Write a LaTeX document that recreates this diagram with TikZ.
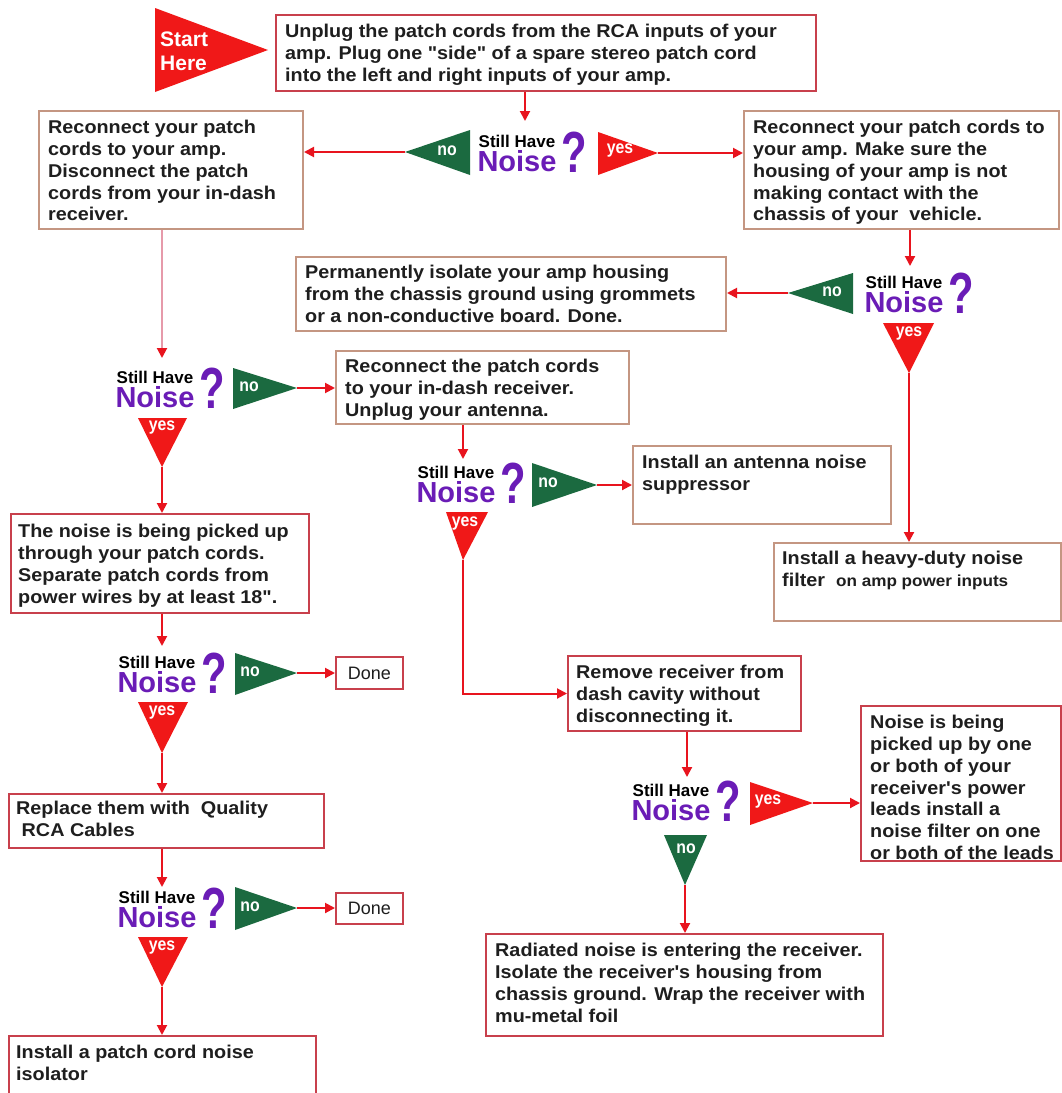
\documentclass[tikz,border=0pt]{standalone}
\usepackage{fontspec}
\setmainfont{Liberation Sans}
\newfontfamily\boxfont{Liberation Sans}[FakeStretch=1.07]
\newfontfamily\qmfont{Liberation Sans}[FakeStretch=0.72]
\newfontfamily\flagfont{Liberation Sans}[FakeStretch=0.88]
\usetikzlibrary{arrows.meta,calc}
\definecolor{arrred}{HTML}{E8141E}
\definecolor{flagred}{HTML}{F01818}
\definecolor{flaggreen}{HTML}{1B6A40}
\definecolor{noisepurple}{HTML}{6A1CB6}
\definecolor{tanb}{HTML}{C49682}
\definecolor{redb}{HTML}{C8404C}
\definecolor{pinkline}{HTML}{E69AAA}
\definecolor{txtc}{HTML}{1E1E1E}
\tikzset{
  conn/.style={draw=arrred, line width=2pt, -{Triangle[length=10pt,width=10pt]}},
  pinkconn/.style={draw=pinkline, line width=2pt, -{Triangle[length=10pt,width=10pt,color=arrred,fill=arrred]}},
  tanbox/.style={draw=tanb, line width=2pt, fill=white, anchor=north west, inner sep=0pt},
  redbox/.style={draw=redb, line width=2pt, fill=white, anchor=north west, inner sep=0pt},
  txt/.style={anchor=north west, align=left, inner sep=0pt, text=txtc,
    font=\boxfont\bfseries\fontsize{18.5}{21.8}\selectfont},
  flaglbl/.style={text=white, inner sep=0pt, font=\flagfont\bfseries\fontsize{18}{18}\selectfont},
  noiseq/.pic={
    \node[inner sep=0pt, align=center, anchor=south, text=noisepurple,
      font=\bfseries\fontsize{29}{24}\selectfont] (-noise) at (-56,19.5)
      {{\color{black}\fontsize{17}{17}\selectfont Still Have}\\Noise};
    \node[inner sep=0pt, font=\qmfont\bfseries\fontsize{58}{58}\selectfont, text=noisepurple] (-q) at (1,0) {?};
  }
}
\begin{document}
\begin{tikzpicture}[x=1pt,y=-1pt]
\useasboundingbox (0,0) rectangle (1062,1093);
\clip (0,0) rectangle (1062,1093);
\fill[white] (0,0) rectangle (1062,1093);

% ---------- boxes ----------
\node[redbox, minimum width=540, minimum height=76] (A) at (275,14) {};
\node[txt] (At) at (285,24) {Unplug the patch cords from the RCA inputs of your\\amp. Plug one "side" of a spare stereo patch cord\\into the left and right inputs of your amp.};

\node[tanbox, minimum width=264, minimum height=118] (B) at (38,110) {};
\node[txt] (Bt) at (48,120) {Reconnect your patch\\cords to your amp.\\Disconnect the patch\\cords from your in-dash\\receiver.};

\node[tanbox, minimum width=315, minimum height=118] (C) at (743,110) {};
\node[txt] (Ct) at (753,120) {Reconnect your patch cords to\\your amp. Make sure the\\housing of your amp is not\\making contact with the\\chassis of your\ \ vehicle.};

\node[tanbox, minimum width=430, minimum height=74] (P) at (295,256) {};
\node[txt] (Pt) at (305,265) {Permanently isolate your amp housing\\from the chassis ground using grommets\\or a non-conductive board. Done.};

\node[tanbox, minimum width=293, minimum height=73] (D) at (335,350) {};
\node[txt] (Dt) at (345,359) {Reconnect the patch cords\\to your in-dash receiver.\\Unplug your antenna.};

\node[tanbox, minimum width=258, minimum height=78] (F) at (632,445) {};
\node[txt] (Ft) at (642,455) {Install an antenna noise\\suppressor};

\node[tanbox, minimum width=287, minimum height=78] (J) at (773,542) {};
\node[txt] (Jt) at (782,551) {Install a heavy-duty noise\\filter\ \ {\fontsize{16}{21.8}\selectfont on amp power inputs}};

\node[redbox, minimum width=298, minimum height=99] (E) at (10,513) {};
\node[txt] (Et) at (18,524) {The noise is being picked up\\through your patch cords.\\Separate patch cords from\\power wires by at least 18".};

\node[redbox, minimum width=233, minimum height=75] (G) at (567,655) {};
\node[txt] (Gt) at (576,665) {Remove receiver from\\dash cavity without\\disconnecting it.};

\node[redbox, minimum width=200, minimum height=155] (H) at (860,705) {};
\node[txt] (Ht) at (870,715) {Noise is being\\picked up by one\\or both of your\\receiver's power\\leads install a\\noise filter on one\\or both of the leads};

\node[redbox, minimum width=397, minimum height=102] (I) at (485,933) {};
\node[txt] (It) at (495,943) {Radiated noise is entering the receiver.\\Isolate the receiver's housing from\\chassis ground. Wrap the receiver with\\mu-metal foil};

\node[redbox, minimum width=315, minimum height=54] (K) at (8,793) {};
\node[txt] (Kt) at (16,801) {Replace them with\ \ Quality\\\ RCA Cables};

\node[redbox, minimum width=307, minimum height=80] (L) at (8,1035) {};
\node[txt] (Lt) at (16,1045) {Install a patch cord noise\\isolator};

\node[redbox, minimum width=67, minimum height=32] (Done1) at (335,656) {};
\node[text=txtc, font=\fontsize{18}{18}\selectfont] (Done1t) at (Done1.center) {Done};
\node[redbox, minimum width=67, minimum height=31] (Done2) at (335,892) {};
\node[text=txtc, font=\fontsize{18}{18}\selectfont] (Done2t) at (Done2.center) {Done};

% ---------- start flag ----------
\coordinate (st) at (268,50);
\fill[flagred] (155,8) -- (155,92) -- (st) -- cycle;
\node[text=white, align=left, anchor=west, inner sep=0pt, font=\bfseries\fontsize{21}{24}\selectfont] (startlbl) at (160,51) {Start\\Here};

% ---------- question clusters ----------
\pic (c1) at (573,152) {noiseq};
\pic (c3) at (960,293) {noiseq};
\pic (c4) at (211,388) {noiseq};
\pic (c5) at (512,483) {noiseq};
\pic (c6) at (727,801) {noiseq};
\pic (c7) at (213,673) {noiseq};
\pic (c8) at (213,908) {noiseq};

% ---------- flags ----------
% cluster 1
\coordinate (n1) at (405,152);
\fill[flaggreen] (470,130) -- (470,175) -- (n1) -- cycle;
\node[flaglbl] (n1l) at (447,151) {no};
\coordinate (y1) at (658,153);
\fill[flagred] (598,132) -- (598,175) -- (y1) -- cycle;
\node[flaglbl] (y1l) at (620,151) {yes};
% cluster 3
\coordinate (n3) at (788,293);
\fill[flaggreen] (853,273) -- (853,314) -- (n3) -- cycle;
\node[flaglbl] (n3l) at (832,292) {no};
\coordinate (y3) at (909,373);
\fill[flagred] (883,323) -- (934,323) -- (y3) -- cycle;
\node[flaglbl] (y3l) at (909,334) {yes};
% cluster 4
\coordinate (n4) at (297,388);
\fill[flaggreen] (233,368) -- (233,409) -- (n4) -- cycle;
\node[flaglbl] (n4l) at (249,387) {no};
\coordinate (y4) at (162,467);
\fill[flagred] (138,418) -- (187,418) -- (y4) -- cycle;
\node[flaglbl] (y4l) at (162,428) {yes};
% cluster 5
\coordinate (n5) at (597,485);
\fill[flaggreen] (532,463) -- (532,507) -- (n5) -- cycle;
\node[flaglbl] (n5l) at (548,483) {no};
\coordinate (y5) at (463,560);
\fill[flagred] (446,512) -- (488,512) -- (y5) -- cycle;
\node[flaglbl] (y5l) at (465,524) {yes};
% cluster 6
\coordinate (y6) at (813,803);
\fill[flagred] (750,782) -- (750,825) -- (y6) -- cycle;
\node[flaglbl] (y6l) at (768,802) {yes};
\coordinate (n6) at (685,885);
\fill[flaggreen] (664,835) -- (707,835) -- (n6) -- cycle;
\node[flaglbl] (n6l) at (686,849) {no};
% cluster 7
\coordinate (n7) at (297,673);
\fill[flaggreen] (235,653) -- (235,695) -- (n7) -- cycle;
\node[flaglbl] (n7l) at (250,672) {no};
\coordinate (y7) at (162,753);
\fill[flagred] (138,702) -- (188,702) -- (y7) -- cycle;
\node[flaglbl] (y7l) at (162,713) {yes};
% cluster 8
\coordinate (n8) at (297,908);
\fill[flaggreen] (235,887) -- (235,930) -- (n8) -- cycle;
\node[flaglbl] (n8l) at (250,907) {no};
\coordinate (y8) at (162,987);
\fill[flagred] (138,937) -- (188,937) -- (y8) -- cycle;
\node[flaglbl] (y8l) at (162,948) {yes};

% ---------- connector targets above clusters ----------
\coordinate (c1in) at (525,121);
\coordinate (c3in) at (910,266);
\coordinate (c4in) at (162,358);
\coordinate (c5in) at (463,459);
\coordinate (c6in) at (687,777);
\coordinate (c7in) at (162,646);
\coordinate (c8in) at (162,887);

% ---------- connectors ----------
\draw[conn] (A.south -| c1in) -- (c1in);
\draw[conn] (n1) -- (n1 -| B.east);
\draw[conn] (y1) -- (y1 -| C.west);
\draw[pinkconn] (B.south -| c4in) -- (c4in);
\draw[conn] (C.south -| c3in) -- (c3in);
\draw[conn] (n3) -- (n3 -| P.east);
\draw[conn] (y3) -- (y3 |- J.north);
\draw[conn] (n4) -- (n4 -| D.west);
\draw[conn] (y4) -- (y4 |- E.north);
\draw[conn] (D.south -| c5in) -- (c5in);
\draw[conn] (n5) -- (n5 -| F.west);
\draw[conn] (y5) |- (G.west);
\draw[conn] (G.south -| c6in) -- (c6in);
\draw[conn] (y6) -- (y6 -| H.west);
\draw[conn] (n6) -- (n6 |- I.north);
\draw[conn] (E.south -| c7in) -- (c7in);
\draw[conn] (n7) -- (n7 -| Done1.west);
\draw[conn] (y7) -- (y7 |- K.north);
\draw[conn] (K.south -| c8in) -- (c8in);
\draw[conn] (n8) -- (n8 -| Done2.west);
\draw[conn] (y8) -- (y8 |- L.north);
\end{tikzpicture}
\end{document}
